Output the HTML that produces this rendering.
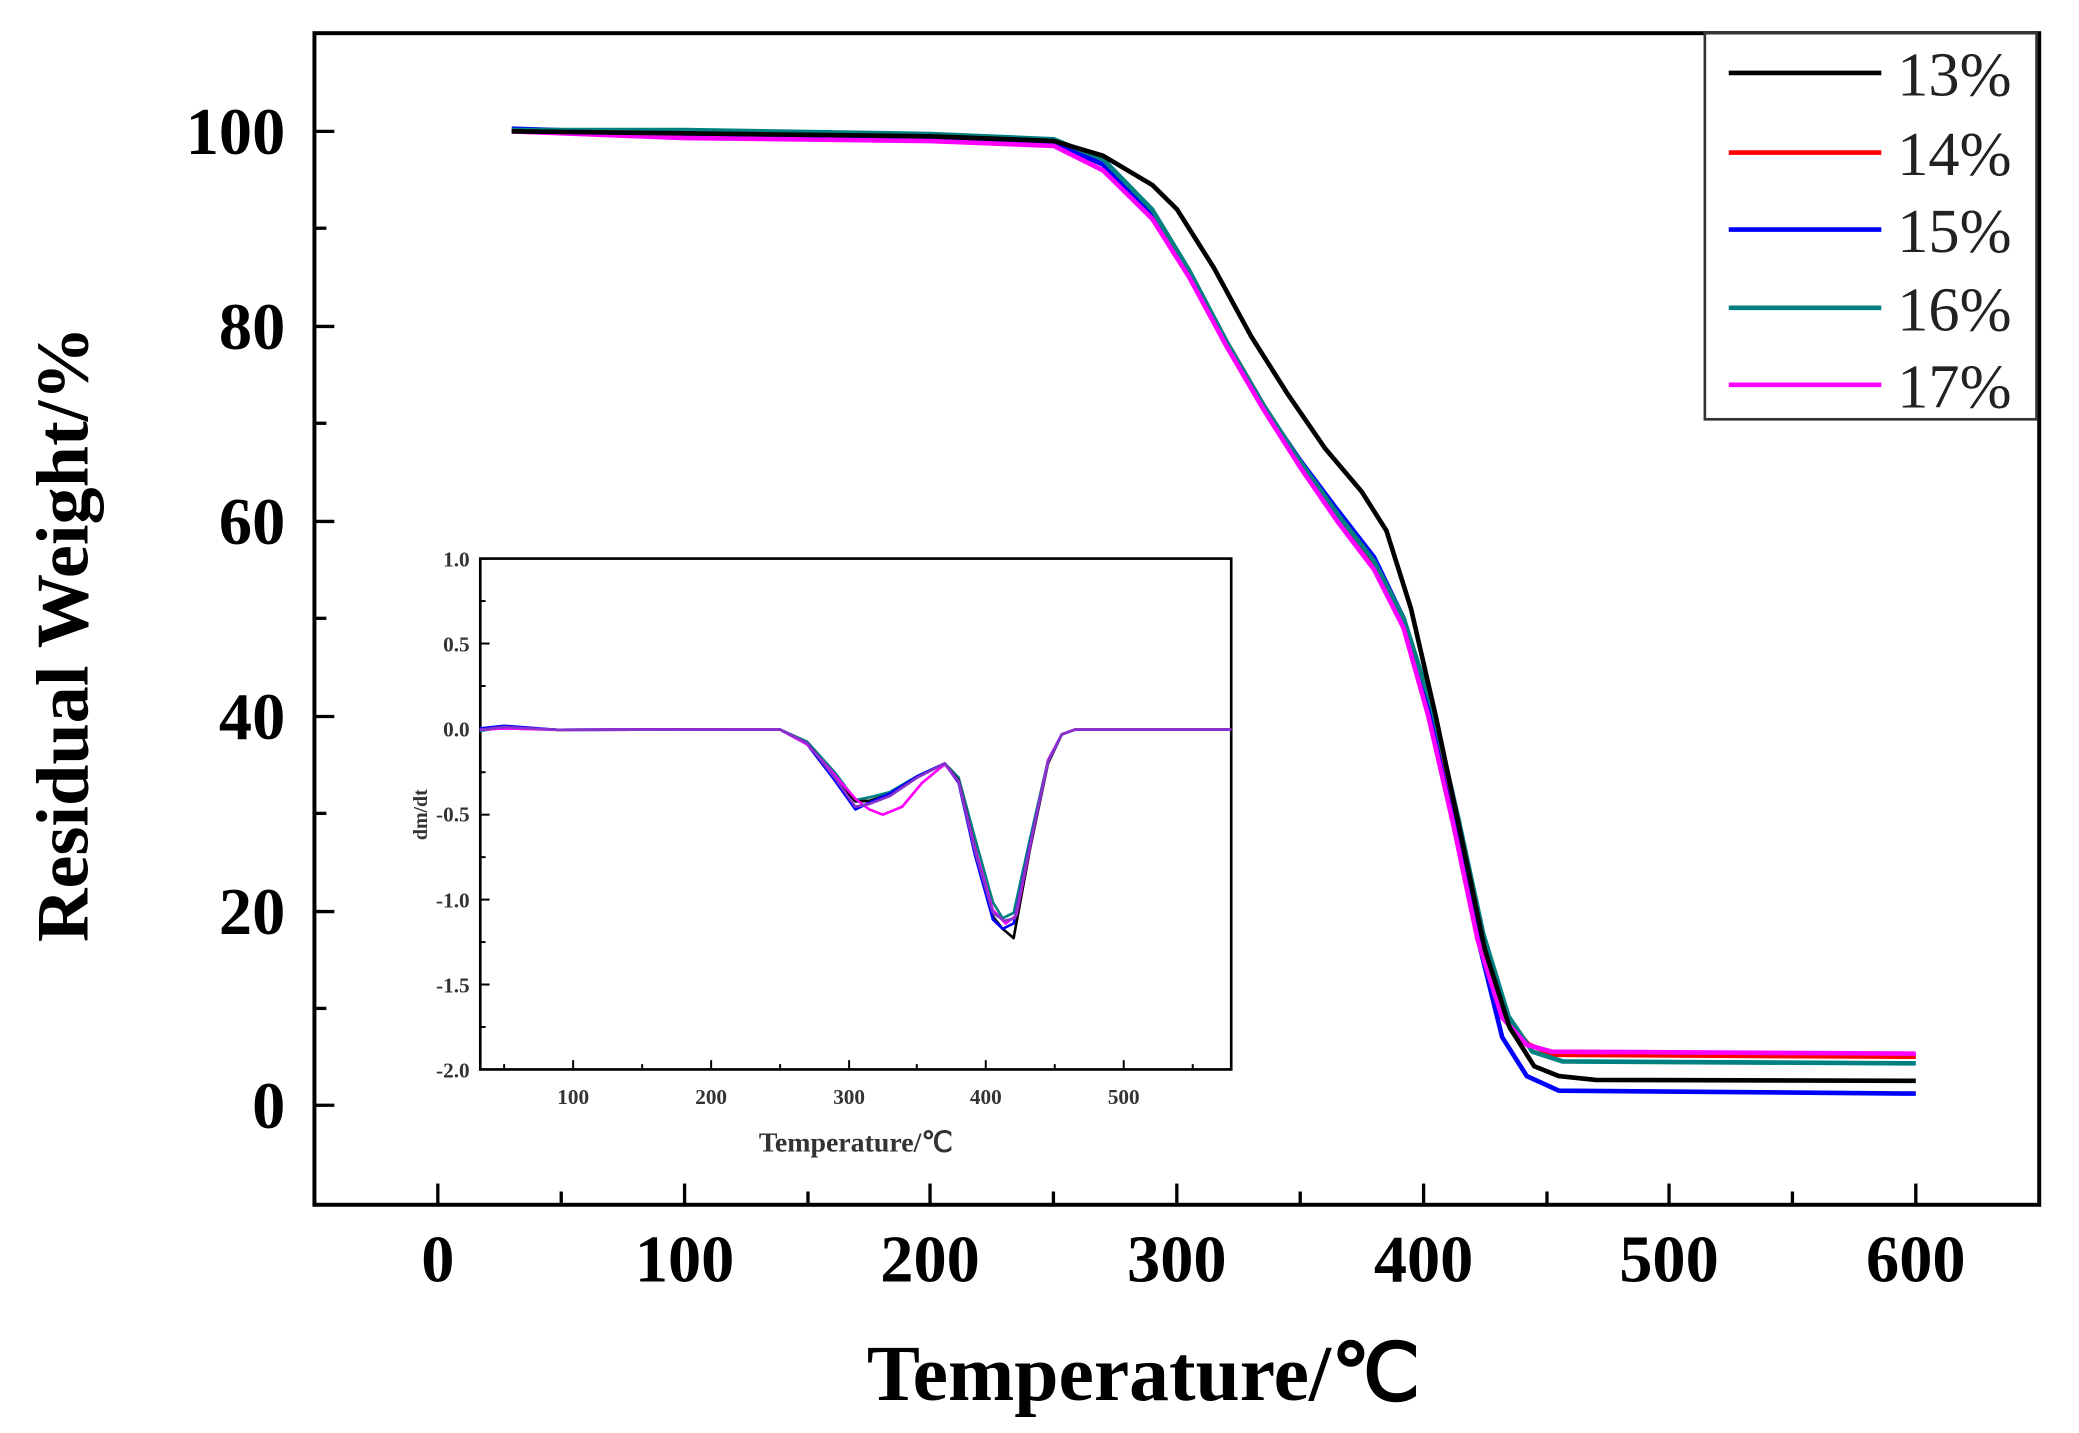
<!DOCTYPE html>
<html><head><style>html,body{margin:0;padding:0;background:#fff}svg{display:block}</style></head>
<body>
<svg width="2079" height="1433" viewBox="0 0 1567 1080" preserveAspectRatio="none" xmlns="http://www.w3.org/2000/svg" font-family="Liberation Serif, serif">
<rect x="237" y="25" width="1300" height="883" fill="none" stroke="#000" stroke-width="3"/>
<g stroke="#000" stroke-width="2.5">
<line x1="330" y1="908" x2="330" y2="892"/><line x1="423" y1="908" x2="423" y2="898"/>
<line x1="516" y1="908" x2="516" y2="892"/><line x1="609" y1="908" x2="609" y2="898"/>
<line x1="701" y1="908" x2="701" y2="892"/><line x1="794" y1="908" x2="794" y2="898"/>
<line x1="887" y1="908" x2="887" y2="892"/><line x1="980" y1="908" x2="980" y2="898"/>
<line x1="1073" y1="908" x2="1073" y2="892"/><line x1="1166" y1="908" x2="1166" y2="898"/>
<line x1="1258" y1="908" x2="1258" y2="892"/><line x1="1351" y1="908" x2="1351" y2="898"/>
<line x1="1444" y1="908" x2="1444" y2="892"/>
<line x1="237" y1="99" x2="252" y2="99"/><line x1="237" y1="172" x2="246" y2="172"/>
<line x1="237" y1="246" x2="252" y2="246"/><line x1="237" y1="319" x2="246" y2="319"/>
<line x1="237" y1="393" x2="252" y2="393"/><line x1="237" y1="466" x2="246" y2="466"/>
<line x1="237" y1="540" x2="252" y2="540"/><line x1="237" y1="613" x2="246" y2="613"/>
<line x1="237" y1="687" x2="252" y2="687"/><line x1="237" y1="760" x2="246" y2="760"/>
<line x1="237" y1="833" x2="252" y2="833"/>
</g>
<g font-weight="bold" font-size="50" text-anchor="end">
<text x="215" y="116">100</text><text x="215" y="263">80</text><text x="215" y="410">60</text><text x="215" y="557">40</text><text x="215" y="704">20</text><text x="215" y="850">0</text>
</g>
<g font-weight="bold" font-size="50" text-anchor="middle">
<text x="330" y="966">0</text><text x="516" y="966">100</text><text x="701" y="966">200</text><text x="887" y="966">300</text><text x="1073" y="966">400</text><text x="1258" y="966">500</text><text x="1444" y="966">600</text>
</g>
<text x="862" y="1055" font-weight="bold" font-size="60" text-anchor="middle">Temperature/℃</text>
<text transform="translate(66,478) rotate(-90)" font-weight="bold" font-size="56" text-anchor="middle">Residual Weight/%</text>
<g fill="none" stroke-width="3.5" stroke-linejoin="round">
<polyline stroke="#ff0000" points="385.7,99 515.7,103 701.4,105 794.3,108 831.4,124 868.5,160 896.4,205 924.2,257 952.1,305 980,349 1007.8,389 1035.7,426 1057.9,470 1077,537 1096,618 1115,706 1134,766 1152,787 1171,795 1444,796.4"/>
<polyline stroke="#0000ff" points="385.7,97 515.7,101 701.4,104 794.3,107 831.4,124 868.5,162 896.4,208 924.2,260 952.1,306 980,347 1007.8,384 1035.7,420 1057.9,466 1077,537 1096,622 1115,712 1132.2,781.6 1150.8,811 1174.9,822 1444,824.2"/>
<polyline stroke="#008080" points="385.7,98 515.7,98 701.4,101 794.3,105 831.4,120 868.5,158 896.4,204 924.2,257 952.1,305 980,348 1007.8,387 1035.7,423 1058,466 1080,535 1099,616 1118,704 1137,766 1155,792.6 1178,800 1444,801.4"/>
<polyline stroke="#ff00ff" points="385.7,99 515.7,104 701.4,106.3 794.3,110 831.4,128.4 868.5,165 896.4,209.1 924.2,260.5 952.1,308.2 980,352.2 1007.8,392.6 1035.7,429.3 1057.9,473.3 1076.5,539.4 1095.1,620.1 1113.7,708.2 1132.2,766.9 1150.8,787.5 1169.4,792.6 1444,794.1"/>
<polyline stroke="#000" points="385.7,99 515.7,100.5 701.4,102.7 794.3,106.3 831.4,117.4 868.5,139.4 887.1,157.7 914.9,201.8 942.8,253.1 970.7,297.2 998.5,337.6 1026.4,370.6 1045,400 1063.5,458.7 1082.1,539.4 1100.7,627.5 1119.2,715.6 1137.8,774.3 1156.4,803.6 1174.9,811 1202.8,813.9 1444,814.6"/>
</g>
<rect x="1285" y="25" width="250" height="291" fill="#fff" stroke="#333" stroke-width="2"/>
<g stroke-width="3.5">
<line x1="1303" y1="55" x2="1418" y2="55" stroke="#000"/>
<line x1="1303" y1="115" x2="1418" y2="115" stroke="#ff0000"/>
<line x1="1303" y1="173" x2="1418" y2="173" stroke="#0000ff"/>
<line x1="1303" y1="232" x2="1418" y2="232" stroke="#008080"/>
<line x1="1303" y1="290" x2="1418" y2="290" stroke="#ff00ff"/>
</g>
<g font-size="47" fill="#222">
<text x="1430" y="72">13%</text><text x="1430" y="132">14%</text><text x="1430" y="190">15%</text><text x="1430" y="249">16%</text><text x="1430" y="307">17%</text>
</g>
<rect x="362" y="421" width="566" height="385" fill="#fff" stroke="#000" stroke-width="2"/>
<g stroke="#000" stroke-width="1.5">
<line x1="380" y1="806" x2="380" y2="802"/><line x1="432" y1="806" x2="432" y2="799"/>
<line x1="484" y1="806" x2="484" y2="802"/><line x1="536" y1="806" x2="536" y2="799"/>
<line x1="588" y1="806" x2="588" y2="802"/><line x1="640" y1="806" x2="640" y2="799"/>
<line x1="691" y1="806" x2="691" y2="802"/><line x1="743" y1="806" x2="743" y2="799"/>
<line x1="795" y1="806" x2="795" y2="802"/><line x1="847" y1="806" x2="847" y2="799"/>
<line x1="899" y1="806" x2="899" y2="802"/>
<line x1="362" y1="485" x2="369" y2="485"/><line x1="362" y1="550" x2="369" y2="550"/>
<line x1="362" y1="614" x2="369" y2="614"/><line x1="362" y1="678" x2="369" y2="678"/>
<line x1="362" y1="742" x2="369" y2="742"/>
<line x1="362" y1="453" x2="366" y2="453"/><line x1="362" y1="517" x2="366" y2="517"/>
<line x1="362" y1="582" x2="366" y2="582"/><line x1="362" y1="646" x2="366" y2="646"/>
<line x1="362" y1="710" x2="366" y2="710"/><line x1="362" y1="774" x2="366" y2="774"/>
</g>
<g font-size="16" font-weight="bold" text-anchor="end" fill="#333">
<text x="354" y="427">1.0</text><text x="354" y="491">0.5</text><text x="354" y="555">0.0</text><text x="354" y="619">-0.5</text><text x="354" y="684">-1.0</text><text x="354" y="748">-1.5</text><text x="354" y="812">-2.0</text>
</g>
<g font-size="16" font-weight="bold" text-anchor="middle" fill="#333">
<text x="432" y="832">100</text><text x="536" y="832">200</text><text x="640" y="832">300</text><text x="743" y="832">400</text><text x="847" y="832">500</text>
</g>
<text x="645" y="868" font-size="21" font-weight="bold" text-anchor="middle" fill="#333">Temperature/℃</text>
<text transform="translate(322,614) rotate(-90)" font-size="15" font-weight="bold" text-anchor="middle" fill="#333">dm/dt</text>
<g fill="none" stroke-width="2" stroke-linejoin="round">
<polyline stroke="#008080" points="361.5,551 380,548 420,550 587.6,549.7 608.4,559 629.1,582 644.7,603 655.1,601 670.6,597 691.4,585 712.1,575.4 722.5,586 735,632 748.4,680 755.7,692 764,688 776.4,632 789.9,573 800.3,553.5 810.7,549.7 928,549.7"/>
<polyline stroke="#000" points="361.5,550 380,548 420,550 587.6,549.7 608.4,560 629.1,585.6 644.7,604 655.1,603.6 670.6,598.5 691.4,585.6 712.1,575.4 722.5,588.2 735,639.5 748.4,690.8 755.7,700 764,707 776.4,639.5 789.9,575.4 800.3,553.5 810.7,549.7 928,549.7"/>
<polyline stroke="#0000ff" points="361.5,549 380,547 420,550 587.6,549.7 608.4,561 629.1,588 644.7,610 655.1,605 670.6,598 691.4,585 712.1,575.4 722.5,590 735,645 748.4,693 755.7,700 764,696 776.4,636 789.9,574 800.3,553.5 810.7,549.7 928,549.7"/>
<polyline stroke="#ff00ff" points="361.5,550 380,549 420,550 587.6,549.7 608.4,561 629.1,584 644.7,602 655.1,610 665.4,614 680,608 695,590 712.1,576 722.5,589 735,640 748.4,686 758,696 766,690 778,630 790,573 800.3,553.5 810.7,549.7 928,549.7"/>
<polyline stroke="#8833cc" points="361.5,550 380,548 420,550 587.6,549.7 608.4,560 629.1,586 644.7,608 655.1,606 670.6,600 691.4,586 712.1,575.4 722.5,589 735,642 748.4,688 757,694 765,692 777,634 790,574 800.3,553.5 810.7,549.7 928,549.7"/>
</g>
</svg>
</body></html>
